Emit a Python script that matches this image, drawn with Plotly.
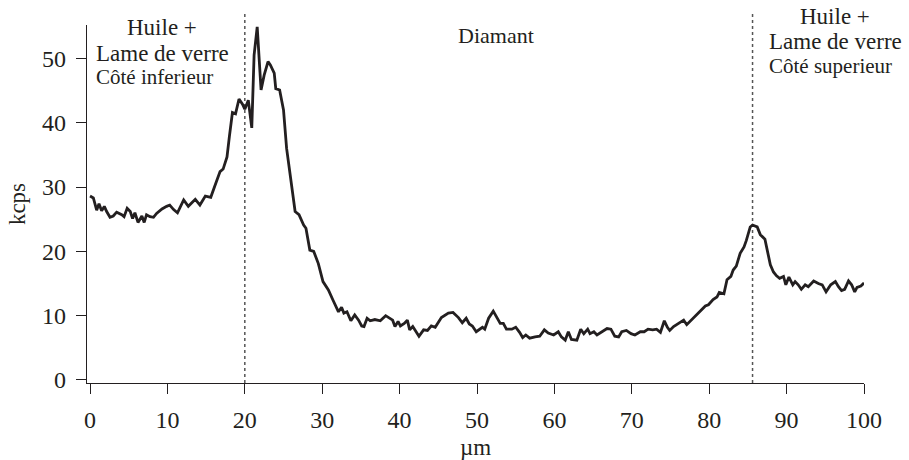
import plotly.graph_objects as go

# depth profile
x_um = [0, 0.43, 0.86, 1.16, 1.5, 1.85, 2.15, 2.58, 3.0, 3.44, 4.1, 4.4, 4.8, 5.2, 5.5, 5.8,
        6.2, 6.7, 7.0, 7.3, 7.75, 8.2, 8.6, 9.3, 9.9, 10.3, 10.8, 11.3, 12.1, 12.7, 13.6, 14.2,
        14.9, 15.6, 16.1, 16.8, 17.2, 17.7, 18.0, 18.4, 18.8, 19.25, 19.7, 20.0, 20.45, 20.9,
        21.2, 21.6, 22.1, 22.5, 23.0, 23.3, 23.8, 24.0, 24.5, 25.0, 25.4, 25.8, 26.5, 27.0,
        27.6, 27.9, 28.4, 28.9, 29.5, 30.1, 30.8, 31.4, 32.1, 32.5, 32.8, 33.2, 33.7, 34.2,
        34.7, 35.1, 35.4, 35.8, 36.2, 36.8, 37.5, 38.2, 38.8, 39.1, 39.4, 39.8, 40.1, 40.6,
        41.0, 41.3, 41.7, 42.1, 42.5, 43.1, 43.6, 44.1, 44.6, 45.4, 46.3, 46.9, 47.6, 48.1,
        48.6, 49.0, 49.4, 49.9, 50.3, 50.7, 51.0, 51.5, 52.1, 52.5, 53.0, 53.4, 53.8, 54.5,
        55.0, 55.5, 55.9, 56.3, 56.8, 57.5, 58.1, 58.7, 59.2, 59.9, 60.5, 60.9, 61.4, 61.8,
        62.2, 62.9, 63.4, 63.8, 64.3, 64.6, 65.1, 65.5, 66.1, 66.8, 67.3, 67.8, 68.3, 68.7,
        69.3, 69.9, 70.4, 71.1, 71.6, 72.1, 72.7, 73.2, 73.7, 74.2, 74.6, 74.9, 75.4, 76.0,
        76.7, 77.1, 77.7, 78.4, 79.0, 79.5, 79.9, 80.5, 81.0, 81.3, 81.9, 82.3, 82.8, 83.1,
        83.5, 84.0, 84.5, 84.8, 85.3, 85.6, 86.2, 86.6, 87.2, 87.5, 87.9, 88.3, 88.7, 89.1,
        89.6, 89.9, 90.3, 90.8, 91.1, 91.5, 91.9, 92.4, 92.8, 93.5, 94.1, 94.6, 95.1, 95.7,
        96.3, 96.7, 97.1, 97.5, 98.0, 98.4, 98.8, 99.1, 99.6, 100.0]
kcps = [28.6, 28.3, 26.4, 27.4, 26.3, 27.0, 26.2, 25.3, 25.5, 26.1, 25.7, 25.4, 26.7, 26.2, 25.1, 26.0,
        24.5, 25.5, 24.5, 25.7, 25.4, 25.3, 25.9, 26.6, 27.0, 27.2, 26.5, 26.0, 28.0, 27.0, 28.1, 27.2,
        28.6, 28.4, 30.1, 32.4, 32.8, 34.7, 37.8, 41.6, 41.4, 43.7, 42.9, 42.1, 43.5, 39.2,
        50.5, 54.9, 45.1, 47.4, 49.5, 49.0, 47.7, 45.3, 45.1, 42.0, 36.0, 32.4, 26.2, 25.7,
        24.1, 23.6, 20.2, 20.0, 18.1, 15.3, 14.0, 12.4, 10.6, 11.3, 10.4, 10.6, 9.2, 10.1,
        9.3, 8.4, 8.3, 9.6, 9.2, 9.4, 9.2, 10.0, 9.6, 9.3, 8.3, 9.1, 8.4, 8.8,
        9.3, 7.8, 8.3, 7.5, 6.8, 7.8, 7.7, 8.4, 8.2, 9.7, 10.4, 10.5, 9.7, 8.9,
        9.6, 8.7, 8.4, 7.5, 7.8, 8.2, 7.9, 9.6, 10.7, 9.8, 8.8, 8.8, 7.9, 7.9,
        8.2, 7.4, 6.6, 7.0, 6.5, 6.7, 6.8, 7.8, 7.3, 7.0, 7.5, 6.7, 6.2, 7.5,
        6.3, 6.2, 7.9, 7.2, 7.9, 7.2, 7.5, 7.0, 7.5, 8.0, 7.9, 6.8, 6.7, 7.5,
        7.7, 7.2, 7.0, 7.5, 7.5, 7.9, 7.8, 7.9, 7.4, 9.2, 8.2, 7.7, 8.3, 8.8,
        9.3, 8.6, 9.3, 10.1, 10.8, 11.5, 11.7, 12.5, 12.9, 13.6, 13.4, 15.6, 16.1, 17.1,
        17.7, 19.7, 20.7, 21.7, 23.8, 24.1, 23.8, 22.6, 21.9, 20.2, 17.9, 16.8, 16.2, 15.8,
        16.1, 14.8, 16.0, 14.8, 15.3, 14.8, 14.1, 14.8, 14.5, 15.4, 15.0, 14.8, 13.7, 14.8,
        15.3, 14.5, 13.9, 14.1, 15.4, 14.8, 13.7, 14.4, 14.6, 15.1]

boundaries = [20, 85.6]
x_ticks = [0, 10, 20, 30, 40, 50, 60, 70, 80, 90, 100]
y_ticks = [0, 10, 20, 30, 40, 50]

ink = '#231f20'
serif = 'Liberation Serif, Times New Roman, serif'

fig = go.Figure()
fig.add_trace(go.Scatter(x=x_um, y=kcps, mode='lines',
                         line=dict(color=ink, width=2.8), hoverinfo='skip'))

for b in boundaries:
    fig.add_shape(type='line', xref='x', yref='paper', x0=b, x1=b, y0=0, y1=1.036,
                  line=dict(color='#555555', width=1.5, dash='dot'), layer='below')

# plot area in pixels: x 87..864, y 25..383
def px(xp):
    return (xp - 87) / 777.0

def py(yp):
    return (383 - yp) / 358.0

def note(txt, x, baseline, size, anchor='center'):
    # place text by its baseline (pixels from top)
    mid = baseline - 0.3375 * size
    fig.add_annotation(text=txt, xref='paper', yref='paper', x=px(x), y=py(mid), showarrow=False,
                       xanchor=anchor, yanchor='middle', borderpad=0,
                       font=dict(family=serif, size=size, color=ink))

note('Huile +', 162, 35.5, 23)
note('Lame de verre', 95, 61.5, 23, 'left')
note('Côté inferieur', 95, 84, 21, 'left')
note('Diamant', 457, 43, 22, 'left')
note('Huile +', 835, 24, 23)
note('Lame de verre', 768, 49.5, 23, 'left')
note('Côté superieur', 768, 73, 21, 'left')

fig.update_layout(
    width=909, height=460,
    margin=dict(l=87, r=45, t=25, b=77),
    paper_bgcolor='white', plot_bgcolor='white',
    showlegend=False,
    font=dict(family=serif, color=ink),
    xaxis=dict(range=[-0.39, 100], tickvals=x_ticks, showgrid=False, zeroline=False,
               automargin=False,
               showline=True, linecolor=ink, linewidth=1.4,
               ticks='outside', ticklen=10, tickwidth=1.4, tickcolor=ink,
               ticklabelstandoff=5,
               tickfont=dict(family=serif, size=24, color=ink),
               title=dict(text='µm', font=dict(family=serif, size=23, color=ink), standoff=10)),
    yaxis=dict(range=[-0.47, 55.2], tickvals=y_ticks, showgrid=False, zeroline=False,
               automargin=False,
               showline=True, linecolor=ink, linewidth=1.4,
               ticks='outside', ticklen=10, tickwidth=1.4, tickcolor=ink,
               ticklabelstandoff=5,
               tickfont=dict(family=serif, size=24, color=ink),
               title=dict(text='kcps', font=dict(family=serif, size=23, color=ink), standoff=9)),
)

# the page body has a default 8px margin; drop it so the figure fills the window
fig.write_html("out.html", config={'displayModeBar': False},
               post_script="document.body.style.margin='0';")
